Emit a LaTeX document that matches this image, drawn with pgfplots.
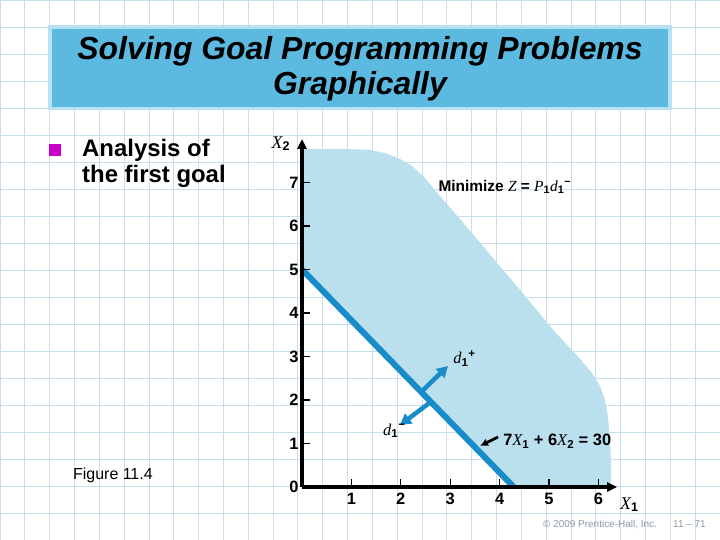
\documentclass[border=0pt]{standalone}
\usepackage{fontspec}
\setmainfont{Liberation Sans}
\newfontfamily\tnr{Liberation Serif}
\usepackage{pgfplots}
\pgfplotsset{compat=1.18}
\usetikzlibrary{arrows.meta}

\definecolor{gridc}{RGB}{200,223,233}
\definecolor{titlefill}{RGB}{92,186,225}
\definecolor{titleedge}{RGB}{184,225,241}
\definecolor{regionc}{RGB}{186,223,237}
\definecolor{linec}{RGB}{24,139,201}
\definecolor{bulletc}{RGB}{204,0,204}
\definecolor{copyc}{RGB}{140,152,162}

\newcommand\iv[1]{{\tnr\mdseries\itshape #1}}

\begin{document}
\begin{tikzpicture}
% slide background grid
\begin{axis}[
  at={(0,0)}, anchor=south west, scale only axis,
  width=720bp, height=540bp,
  xmin=0, xmax=720, ymin=0, ymax=540,
  xtick={0,24.8276,...,720.1}, ytick={0,27,...,540},
  xticklabels={}, yticklabels={},
  grid=major, major grid style={draw=gridc, line width=0.9bp},
  axis line style={draw=none}, tick style={draw=none}, major tick length=0pt,
]
\end{axis}

% title box
\fill[titleedge] (48bp,430bp) rectangle (672bp,515bp);
\fill[titlefill] (52bp,433bp) rectangle (668bp,511bp);
\node[anchor=base, font=\fontsize{32}{38}\selectfont\bfseries\itshape] at (360bp,480bp) {Solving Goal Programming Problems};
\node[anchor=base, font=\fontsize{32}{38}\selectfont\bfseries\itshape] at (360bp,445bp) {Graphically};

% bullet text
\fill[bulletc] (49bp,384bp) rectangle (61bp,396bp);
\node[anchor=base west, inner sep=0pt, font=\fontsize{24}{26}\selectfont\bfseries] at (82bp,383bp) {Analysis of};
\node[anchor=base west, inner sep=0pt, font=\fontsize{24}{26}\selectfont\bfseries] at (82bp,357bp) {the first goal};
\node[anchor=base west, inner sep=0pt, font=\fontsize{16}{18}\selectfont] at (73bp,60bp) {Figure 11.4};

% chart
\begin{axis}[
  at={(302bp,53bp)}, anchor=south west,
  x=49.4bp, y=43.5bp,
  xmin=0, xmax=6.38, ymin=0, ymax=8.0,
  axis lines=left, axis on top, clip=false,
  axis line style={line width=4bp, -{Triangle[length=10bp,width=9bp]}},
  xtick={1,...,6}, ytick={0,...,7},
  tick align=inside, major tick length=8bp,
  tick style={black, line width=1.3bp},
  tick label style={font=\fontsize{16.5}{16.5}\selectfont\bfseries},
  xticklabel style={yshift=-3bp},
  /pgf/number format/assume math mode=true,
]
\addplot[fill=regionc, draw=none] coordinates {
  (0,7.770) (0.972,7.770) (1.377,7.747) (1.680,7.678) (1.984,7.540)
  (2.227,7.379) (2.470,7.126) (2.794,6.690) (3.198,6.161) (4.413,4.529)
  (4.818,3.977) (5.121,3.563) (5.385,3.241) (5.628,2.943) (5.870,2.621)
  (6.032,2.322) (6.134,2.000) (6.194,1.609) (6.235,1.080) (6.255,0.552)
  (6.255,0) (4.2857,0) (0,5) (0,7.770)};
\addplot[linec, line width=6bp] coordinates {(0,5) (4.2857,0)};
\addplot[linec, line width=4.5bp, -{Triangle[length=11bp,width=12bp]}] coordinates {(2.389,2.161) (2.955,2.782)};
\addplot[linec, line width=4.5bp, -{Triangle[length=11bp,width=12bp]}] coordinates {(2.632,1.977) (1.984,1.425)};
\addplot[black, line width=2.8bp, -{Latex[length=8bp,width=8bp]}] coordinates {(3.968,1.149) (3.603,0.943)};

\node[anchor=base west, inner sep=0pt, font=\fontsize{15.5}{15.5}\selectfont\bfseries] at (axis cs:2.76,6.80)
  {Minimize \iv{Z} = \iv{P}\textsubscript{1}\iv{d}\textsubscript{1}\textsuperscript{−}};
\node[anchor=base west, inner sep=0pt, font=\fontsize{16.5}{16.5}\selectfont\bfseries] at (axis cs:4.07,0.95)
  {7\iv{X}\textsubscript{1} + 6\iv{X}\textsubscript{2} = 30};
\node[anchor=base west, inner sep=0pt, font=\fontsize{16.5}{16.5}\selectfont\bfseries] at (axis cs:3.06,2.83)
  {\iv{d}\textsubscript{1}\textsuperscript{+}};
\node[anchor=base west, inner sep=0pt, font=\fontsize{16.5}{16.5}\selectfont\bfseries] at (axis cs:1.64,1.195)
  {\iv{d}\textsubscript{1}\textsuperscript{−}};
\node[anchor=base west, inner sep=0pt, font=\fontsize{18}{18}\selectfont\bfseries] at (axis cs:-0.62,7.79)
  {\iv{X}\textsubscript{2}};
\node[anchor=base west, inner sep=0pt, font=\fontsize{18}{18}\selectfont\bfseries] at (axis cs:6.437,-0.506)
  {\iv{X}\textsubscript{1}};
\end{axis}

% footer
\node[anchor=base west, inner sep=0pt, text=copyc, font=\fontsize{10}{12}\selectfont] at (543bp,13bp) {© 2009 Prentice-Hall, Inc.};
\node[anchor=base west, inner sep=0pt, text=copyc, font=\fontsize{10}{12}\selectfont] at (673bp,13bp) {11 – 71};

\pgfresetboundingbox
\path[use as bounding box] (0,0) rectangle (720bp,540bp);
\end{tikzpicture}
\end{document}
